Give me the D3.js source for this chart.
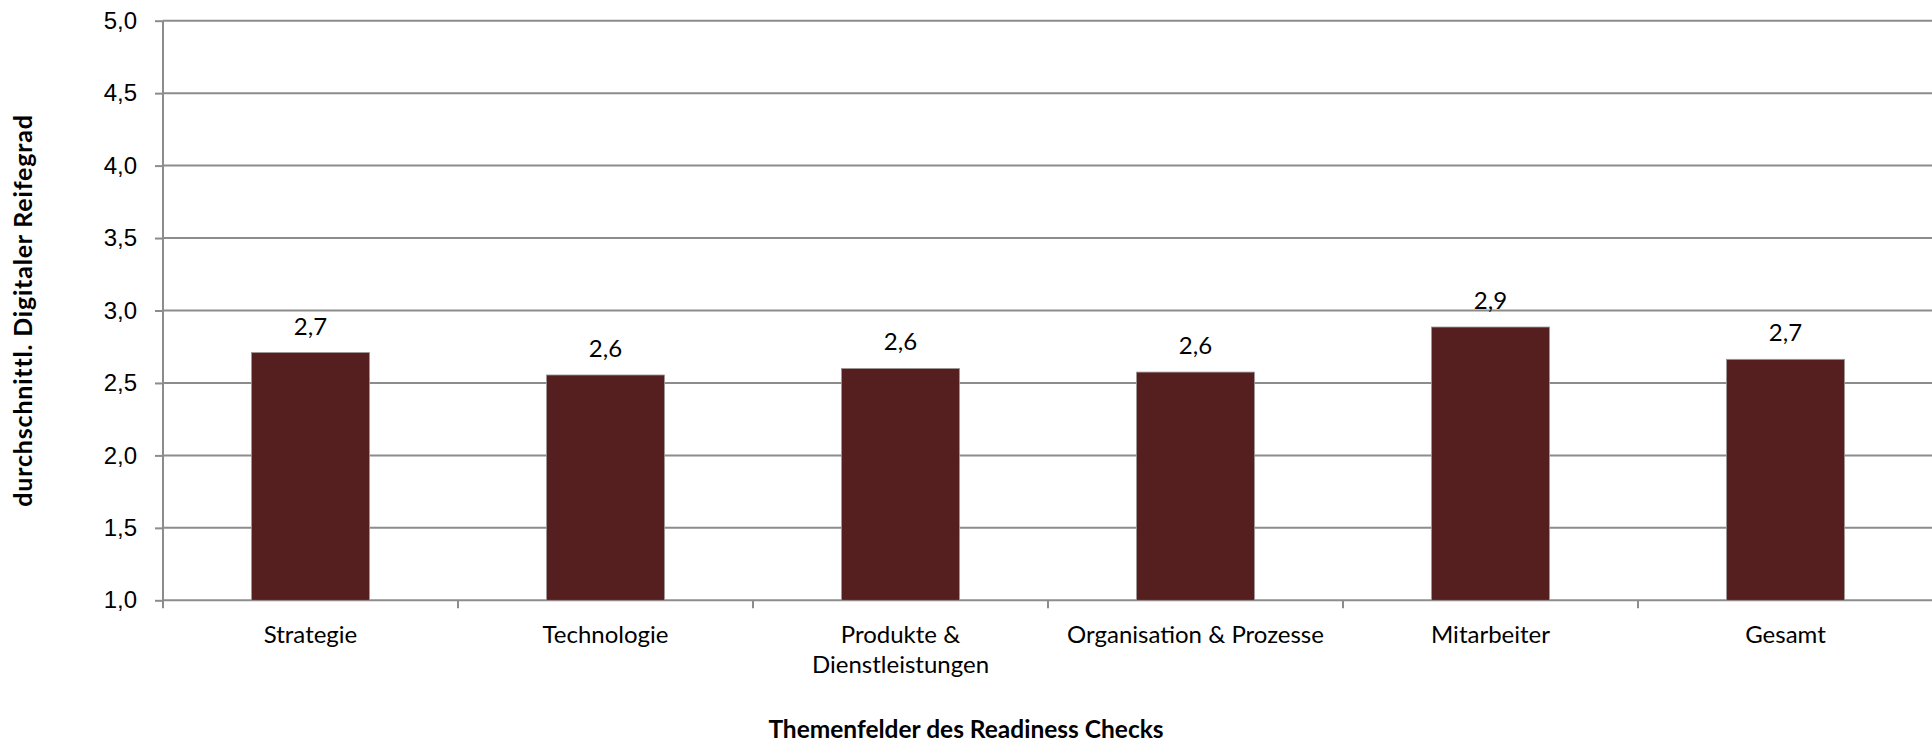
<!DOCTYPE html>
<html>
<head>
<meta charset="utf-8">
<script src="https://cdn.jsdelivr.net/npm/d3@7"></script>
<style>
  html, body { margin: 0; padding: 0; background: #fff; }
  svg { display: block; font-family: Lato, "Open Sans", sans-serif; }
</style>
</head>
<body>
<div id="chart"></div>
<script>
var categories = ['Strategie', 'Technologie', 'Produkte & Dienstleistungen', 'Organisation & Prozesse', 'Mitarbeiter', 'Gesamt'];
var values = [2.71, 2.555, 2.60, 2.575, 2.886, 2.663];
var yTicks = [1.0, 1.5, 2.0, 2.5, 3.0, 3.5, 4.0, 4.5, 5.0];
var yTitle = 'durchschnittl. Digitaler Reifegrad';
var xTitle = 'Themenfelder des Readiness Checks';

var width = 1932,
    height = 746,
    plotLeft = 163,
    plotRight = 1933,
    plotTop = 20.7,
    plotBottom = 600.3,
    barColor = '#561f1f',
    lineColor = '#8c8c8c';

var de = d3.formatLocale({decimal: ',', thousands: '.', grouping: [3], currency: ['', ' €']}),
    fmt = de.format('.1f');

var svg = d3.select('#chart').append('svg')
  .attr('width', width)
  .attr('height', height);

var y = d3.scaleLinear().domain([1, 5]).range([plotBottom, plotTop]);

var x = d3.scaleBand()
  .domain(categories)
  .range([plotLeft, plotRight])
  .paddingInner(0.6)
  .paddingOuter(0.3);

var step = x.step();

// gridlines
svg.append('g').selectAll('line')
  .data(yTicks.slice(1))
  .join('line')
  .attr('x1', plotLeft).attr('x2', width)
  .attr('y1', function(d) { return y(d); })
  .attr('y2', function(d) { return y(d); })
  .attr('stroke', lineColor)
  .attr('stroke-width', 2);

// y axis
var yAxis = svg.append('g')
  .attr('transform', 'translate(' + plotLeft + ',0)')
  .call(d3.axisLeft(y).tickValues(yTicks).tickSize(8).tickPadding(18).tickFormat(fmt));

yAxis.select('.domain').remove();
yAxis.selectAll('.tick line').attr('stroke', lineColor).attr('stroke-width', 2);
yAxis.selectAll('.tick text')
  .attr('fill', '#000')
  .style('font-size', '24px');

svg.append('line')
  .attr('x1', plotLeft).attr('x2', plotLeft)
  .attr('y1', plotTop).attr('y2', plotBottom + 8)
  .attr('stroke', lineColor)
  .attr('stroke-width', 2);

// x axis
svg.append('line')
  .attr('x1', plotLeft).attr('x2', width)
  .attr('y1', plotBottom).attr('y2', plotBottom)
  .attr('stroke', lineColor)
  .attr('stroke-width', 2);

svg.append('g').selectAll('line')
  .data(d3.range(1, categories.length + 1))
  .join('line')
  .attr('x1', function(i) { return plotLeft + i * step; })
  .attr('x2', function(i) { return plotLeft + i * step; })
  .attr('y1', plotBottom).attr('y2', plotBottom + 8)
  .attr('stroke', lineColor)
  .attr('stroke-width', 2);

// bars
svg.append('g').selectAll('rect')
  .data(values)
  .join('rect')
  .attr('x', function(d, i) { return x(categories[i]); })
  .attr('width', x.bandwidth())
  .attr('y', function(d) { return y(d); })
  .attr('height', function(d) { return plotBottom - y(d); })
  .attr('fill', barColor)
  .attr('stroke', '#a09898')
  .attr('stroke-width', 0.8);

// value labels
svg.append('g').selectAll('text')
  .data(values)
  .join('text')
  .attr('x', function(d, i) { return x(categories[i]) + x.bandwidth() / 2; })
  .attr('y', function(d) { return y(d) - 18; })
  .attr('text-anchor', 'middle')
  .style('font-size', '24px')
  .text(function(d) { return fmt(d); });

// category labels, long ones wrap
var wrapped = {'Produkte & Dienstleistungen': ['Produkte &', 'Dienstleistungen']};

svg.append('g').selectAll('text')
  .data(categories)
  .join('text')
  .attr('x', function(d) { return x(d) + x.bandwidth() / 2; })
  .attr('y', 643)
  .attr('text-anchor', 'middle')
  .style('font-size', '24px')
  .each(function(d) {
    var lines = wrapped[d] || [d],
        t = d3.select(this);
    lines.forEach(function(l, i) {
      t.append('tspan')
        .attr('x', t.attr('x'))
        .attr('dy', i ? 30 : 0)
        .text(l);
    });
  });

// axis titles
svg.append('text')
  .attr('transform', 'translate(32,' + ((plotTop + plotBottom) / 2) + ') rotate(-90)')
  .attr('text-anchor', 'middle')
  .style('font-size', '25px')
  .style('letter-spacing', '0.8px')
  .style('font-weight', 'bold')
  .text(yTitle);

svg.append('text')
  .attr('x', width / 2)
  .attr('y', 738)
  .attr('text-anchor', 'middle')
  .style('font-size', '24.5px')
  .style('font-weight', 'bold')
  .text(xTitle);
</script>
</body>
</html>
